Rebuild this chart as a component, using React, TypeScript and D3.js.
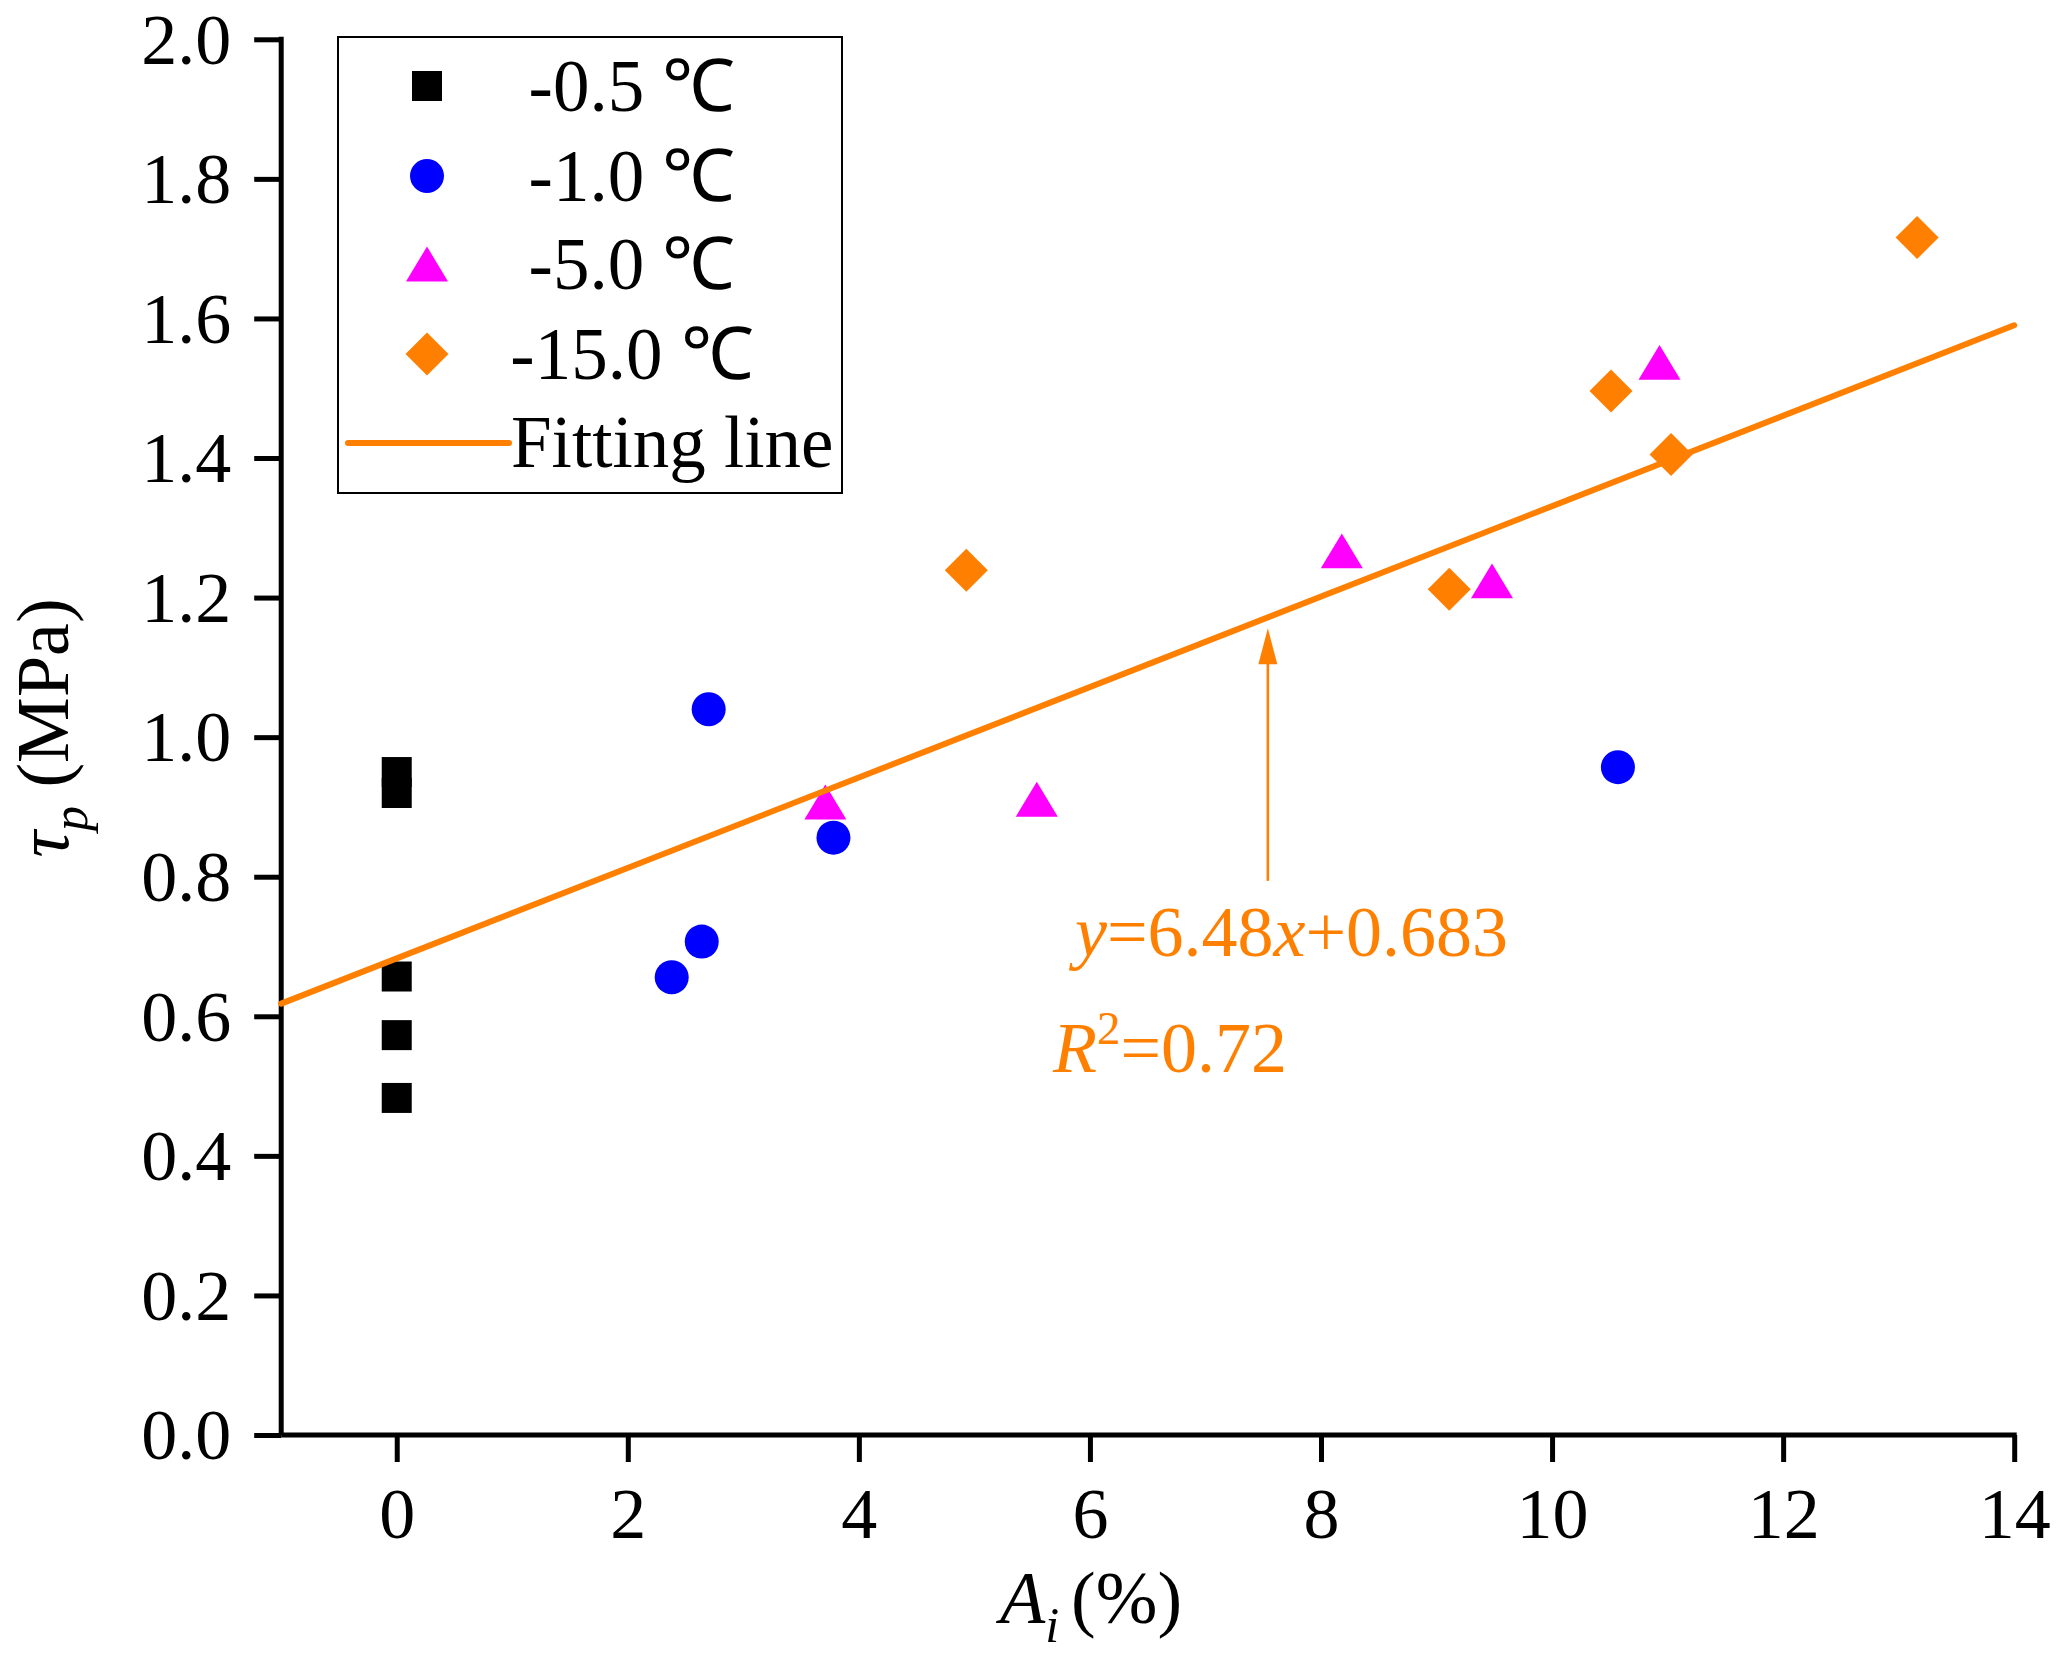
import React, { useEffect, useRef } from "react";
import * as d3 from "d3";

// series: Ai (%) and tau_p (MPa) per test temperature
const seriesLabels = ["-0.5 ℃", "-1.0 ℃", "-5.0 ℃", "-15.0 ℃"];
const seriesColors = ["#000000", "#0000ff", "#ff00ff", "#ff8000"];

const aiM05 = [0, 0, 0, 0, 0];
const tauM05 = [0.95, 0.92, 0.657, 0.573, 0.483];

const aiM10 = [2.7, 3.78, 2.64, 2.38, 10.57];
const tauM10 = [1.04, 0.856, 0.707, 0.656, 0.957];

const aiM50 = [3.71, 5.54, 8.18, 9.48, 10.93];
const tauM50 = [0.907, 0.911, 1.267, 1.224, 1.537];

const aiM150 = [4.93, 9.11, 10.51, 11.03, 13.16];
const tauM150 = [1.239, 1.212, 1.496, 1.405, 1.716];

// fitted line y = 6.48x + 0.683 (x as a fraction)
const fitSlope = 0.0648;
const fitIntercept = 0.683;
const fitRange = [-1, 14];

const xMajor = [0, 2, 4, 6, 8, 10, 12, 14];
const xMinor = [-1, 1, 3, 5, 7, 9, 11, 13];
const yMajor = [0, 0.2, 0.4, 0.6, 0.8, 1.0, 1.2, 1.4, 1.6, 1.8, 2.0];
const yMinor = [0.1, 0.3, 0.5, 0.7, 0.9, 1.1, 1.3, 1.5, 1.7, 1.9];

// annotation anchor points in data units
const arrowX = 7.54;
const arrowFrom = 0.794;
const arrowTo = 1.156;
const eqPos = [5.87, 0.686];
const r2Pos = [5.68, 0.52];

const FONT = "'Liberation Serif', 'Times New Roman', serif";

const triangle = {
  draw(ctx: any, size: number) {
    const h = Math.sqrt(size) / 2;
    ctx.moveTo(0, -h * 0.83);
    ctx.lineTo(h, h * 0.83);
    ctx.lineTo(-h, h * 0.83);
    ctx.closePath();
  },
};
const diamond = {
  draw(ctx: any, size: number) {
    const r = Math.sqrt(size) / 2;
    ctx.moveTo(0, -r);
    ctx.lineTo(r, 0);
    ctx.lineTo(0, r);
    ctx.lineTo(-r, 0);
    ctx.closePath();
  },
};

const symbols = [
  d3.symbol().type(d3.symbolSquare).size(900),
  d3.symbol().type(d3.symbolCircle).size(Math.PI * 17 * 17),
  d3.symbol().type(triangle as any).size(42 * 42),
  d3.symbol().type(diamond as any).size(43 * 43),
];

const App: React.FC = () => {
  const svgRef = useRef<SVGSVGElement | null>(null);

  useEffect(() => {
    document.body.style.margin = "0";
    if (!svgRef.current) return;
    const svg = d3.select(svgRef.current);
    svg.selectAll("*").remove();

    const x = d3.scaleLinear().domain([-1, 14]).range([281.2, 2014.2]);
    const y = d3.scaleLinear().domain([0, 2]).range([1435, 39.3]);

    const axisW = 5;

    // x axis
    const gx = svg.append("g").attr("transform", `translate(0,${y(0)})`);
    gx.call(d3.axisBottom(x).tickValues(xMinor).tickSize(13).tickSizeOuter(0).tickFormat(() => ""));
    gx.call(
      d3.axisBottom(x).tickValues(xMajor).tickSize(27).tickSizeOuter(0).tickFormat(d3.format("d")) as any
    );
    gx.selectAll("path.domain").attr("stroke-width", axisW).attr("d", `M${x(-1)},0H${x(14) + 2.5}`);
    gx.selectAll("line").attr("stroke-width", axisW);
    gx.selectAll("text")
      .attr("y", 103)
      .attr("dy", null)
      .attr("font-family", FONT)
      .attr("font-size", 72)
      .attr("fill", "#000");
    gx.attr("font-family", null).attr("font-size", null);

    // y axis
    const gy = svg.append("g").attr("transform", `translate(${x(-1)},0)`);
    gy.call(d3.axisLeft(y).tickValues(yMinor).tickSize(13).tickSizeOuter(0).tickFormat(() => ""));
    gy.call(
      d3.axisLeft(y).tickValues(yMajor).tickSize(27).tickSizeOuter(0).tickFormat(d3.format(".1f")) as any
    );
    gy.selectAll("path.domain").attr("stroke-width", axisW).attr("d", `M0,${y(2) - 2.5}V${y(0)}`);
    gy.selectAll("line").attr("stroke-width", axisW);
    gy.selectAll("text")
      .attr("x", -50)
      .attr("dy", "0.33em")
      .attr("font-family", FONT)
      .attr("font-size", 72)
      .attr("fill", "#000");
    gy.attr("font-family", null).attr("font-size", null);

    // axis titles
    const xt = svg
      .append("text")
      .attr("x", 1000)
      .attr("y", 1623)
      .attr("font-family", FONT)
      .attr("font-size", 74);
    xt.append("tspan").attr("font-style", "italic").text("A");
    xt.append("tspan").attr("font-style", "italic").attr("font-size", 50).attr("dy", 19).text("i");
    xt.append("tspan").attr("dy", -19).attr("dx", 12).text("(%)");

    const yt = svg
      .append("text")
      .attr("transform", "translate(68,728) rotate(-90)")
      .attr("text-anchor", "middle")
      .attr("font-family", FONT)
      .attr("font-size", 74);
    yt.append("tspan").attr("font-style", "italic").text("τ");
    yt.append("tspan").attr("font-style", "italic").attr("font-size", 50).attr("dy", 19).text("p");
    yt.append("tspan").attr("dy", -19).text(" (MPa)");

    const plot = svg.append("g");
    const series = [
      { xs: aiM05, ys: tauM05 },
      { xs: aiM10, ys: tauM10 },
      { xs: aiM50, ys: tauM50 },
      { xs: aiM150, ys: tauM150 },
    ];

    const drawSeries = (i: number) => {
      plot
        .append("g")
        .selectAll("path")
        .data(series[i].xs.map((v, k) => [v, series[i].ys[k]]))
        .join("path")
        .attr("transform", (d) => `translate(${x(d[0])},${y(d[1])})`)
        .attr("d", symbols[i]() as string)
        .attr("fill", seriesColors[i]);
    };

    drawSeries(0);
    drawSeries(1);
    drawSeries(2);

    const line = d3
      .line<number>()
      .x((d) => x(d))
      .y((d) => y(fitIntercept + fitSlope * d));
    plot
      .append("path")
      .attr("d", line(fitRange))
      .attr("fill", "none")
      .attr("stroke", "#ff8000")
      .attr("stroke-width", 6)
      .attr("stroke-linecap", "round");

    drawSeries(3);

    // arrow annotation
    const ax = x(arrowX);
    const tip = y(arrowTo);
    plot
      .append("line")
      .attr("x1", ax)
      .attr("x2", ax)
      .attr("y1", y(arrowFrom))
      .attr("y2", tip + 30)
      .attr("stroke", "#ff8000")
      .attr("stroke-width", 2.5);
    plot
      .append("path")
      .attr("d", `M${ax},${tip}L${ax + 9.5},${tip + 36}L${ax - 9.5},${tip + 36}Z`)
      .attr("fill", "#ff8000");

    const eq = plot
      .append("text")
      .attr("x", x(eqPos[0]))
      .attr("y", y(eqPos[1]))
      .attr("font-family", FONT)
      .attr("font-size", 72)
      .attr("fill", "#ff8000");
    eq.append("tspan").attr("font-style", "italic").text("y");
    eq.append("tspan").text("=6.48");
    eq.append("tspan").attr("font-style", "italic").text("x");
    eq.append("tspan").text("+0.683");

    const r2 = plot
      .append("text")
      .attr("x", x(r2Pos[0]))
      .attr("y", y(r2Pos[1]))
      .attr("font-family", FONT)
      .attr("font-size", 72)
      .attr("fill", "#ff8000");
    r2.append("tspan").attr("font-style", "italic").text("R");
    r2.append("tspan").attr("font-size", 47).attr("dy", -28).text("2");
    r2.append("tspan").attr("dy", 28).text("=0.72");

    // legend
    const lg = svg.append("g");
    lg.append("rect")
      .attr("x", 338)
      .attr("y", 37)
      .attr("width", 504)
      .attr("height", 456)
      .attr("fill", "none")
      .attr("stroke", "#000")
      .attr("stroke-width", 2);
    const rowY = [86, 176, 264, 354];
    seriesLabels.forEach((label, i) => {
      lg.append("path")
        .attr("transform", `translate(427,${rowY[i]})`)
        .attr("d", symbols[i]() as string)
        .attr("fill", seriesColors[i]);
      lg.append("text")
        .attr("x", 632)
        .attr("y", rowY[i] + 25)
        .attr("text-anchor", "middle")
        .attr("font-family", FONT)
        .attr("font-size", 73)
        .text(label);
    });
    lg.append("line")
      .attr("x1", 348)
      .attr("x2", 509)
      .attr("y1", 443)
      .attr("y2", 443)
      .attr("stroke", "#ff8000")
      .attr("stroke-width", 6)
      .attr("stroke-linecap", "round");
    lg.append("text")
      .attr("x", 511)
      .attr("y", 467)
      .attr("font-family", FONT)
      .attr("font-size", 73)
      .text("Fitting line");
  }, []);

  return <svg ref={svgRef} width={2067} height={1655} style={{ display: "block", background: "#fff" }} />;
};

export default App;
